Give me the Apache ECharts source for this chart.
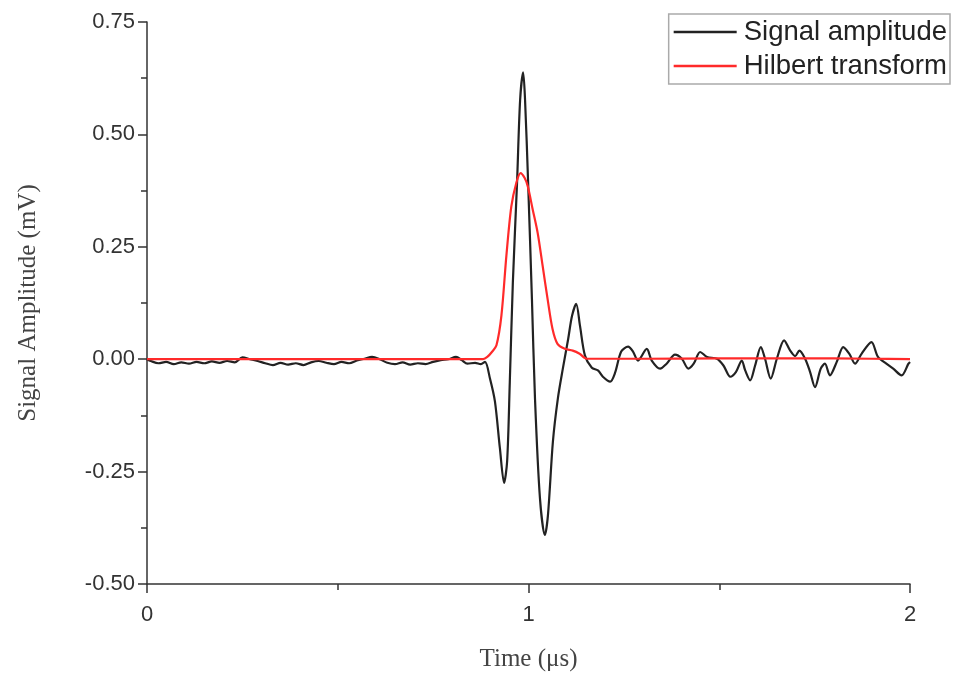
<!DOCTYPE html>
<html>
<head>
<meta charset="utf-8">
<script src="https://cdn.jsdelivr.net/npm/echarts@6/dist/echarts.min.js"></script>
<style>html,body{margin:0;padding:0;background:#fff;}#chart{width:954px;height:677px;}</style>
</head>
<body>
<div id="chart"></div>
<script>
// Time (μs) and amplitude (mV) for the measured signal
var signalTime = [0,0.01,0.03,0.05,0.07,0.09,0.11,0.13,0.15,0.17,0.19,0.21,0.23,0.25,0.27,0.29,0.31,0.33,0.35,0.37,0.39,0.41,0.43,0.45,0.47,0.49,0.51,0.53,0.55,0.57,0.59,0.61,0.63,0.65,0.67,0.69,0.71,0.73,0.75,0.77,0.79,0.81,0.825,0.84,0.86,0.875,0.886,
0.899,0.912,0.925,0.936,0.944,0.951,0.959,0.970,0.978,0.986,0.991,0.999,1.009,1.017,1.030,1.043,1.051,1.064,1.077,1.090,1.104,1.114,1.125,1.135,1.148,1.166,1.182,1.195,1.214,1.227,1.243,1.261,1.274,1.287,1.310,1.323,1.345,1.362,1.384,1.402,1.419,1.433,1.450,1.468,1.494,1.511,1.529,1.544,1.559,1.568,1.581,1.594,1.609,1.620,1.635,1.651,1.670,1.686,1.699,1.710,1.725,1.738,1.751,1.766,1.777,1.790,1.808,1.825,1.841,1.856,1.873,1.899,1.916,1.938,1.956,1.978,1.996,2.0];
var signalAmp = [0,-0.004,-0.009,-0.006,-0.011,-0.007,-0.010,-0.006,-0.009,-0.005,-0.008,-0.004,-0.007,0.004,0.000,-0.004,-0.009,-0.013,-0.008,-0.012,-0.009,-0.013,-0.007,-0.004,-0.008,-0.011,-0.006,-0.009,-0.003,0.001,0.005,0.000,-0.008,-0.011,-0.007,-0.012,-0.009,-0.011,-0.006,-0.002,0.000,0.005,-0.002,-0.010,-0.008,-0.011,-0.006,
-0.043,-0.094,-0.198,-0.275,-0.227,-0.050,0.171,0.393,0.576,0.638,0.576,0.393,0.134,-0.087,-0.309,-0.391,-0.347,-0.183,-0.087,-0.021,0.045,0.096,0.123,0.074,0.008,-0.019,-0.025,-0.039,-0.050,-0.030,0.017,0.028,0.017,-0.003,0.023,-0.003,-0.021,-0.010,0.010,0.001,-0.021,-0.010,0.016,0.005,0.001,-0.014,-0.039,-0.028,-0.003,-0.025,-0.047,-0.014,0.027,0.001,-0.043,0.001,0.042,0.019,0.007,0.019,0.001,-0.028,-0.062,-0.021,-0.010,-0.036,-0.006,0.027,0.012,-0.010,0.012,0.038,0.005,-0.010,-0.021,-0.036,-0.010,-0.006];

// Hilbert transform envelope
var hilbertTime = [0,0.5,0.881,0.892,0.904,0.916,0.929,0.942,0.955,0.968,0.979,0.990,0.998,1.011,1.024,1.037,1.050,1.063,1.076,1.095,1.116,1.134,1.153,1.30,1.50,1.70,1.90,2.0];
var hilbertAmp = [0,0,0,0.005,0.016,0.031,0.097,0.230,0.340,0.392,0.414,0.403,0.385,0.333,0.281,0.208,0.134,0.067,0.034,0.023,0.019,0.012,0.001,0.001,0.002,0.002,0.001,0.000];

var seriesNames = ['Signal amplitude', 'Hilbert transform'];
var yTicks = [-0.5, 0.75, 0.25];
var xTicks = [0, 2, 1];

function zip(a, b) { return a.map(function (v, i) { return [v, b[i]]; }); }

var chart = echarts.init(document.getElementById('chart'), null, {renderer: 'canvas'});
var tickFont = {fontFamily: 'Liberation Sans', fontSize: 22, color: '#333'};
chart.setOption({
  animation: false,
  backgroundColor: '#fff',
  grid: {left: 147, right: 44, top: 22, bottom: 91, containLabel: false},
  legend: {
    orient: 'vertical', right: 4, top: 14,
    data: seriesNames,
    icon: 'rect',
    borderColor: '#aaa', borderWidth: 1.5,
    padding: [4, 3, 4, 5], itemGap: 6,
    itemWidth: 63, itemHeight: 2.5,
    textStyle: {fontFamily: 'Liberation Sans', fontSize: 27.5, color: '#222', padding: [0, 0, 0, 2]}
  },
  xAxis: {
    type: 'value', min: xTicks[0], max: xTicks[1], interval: xTicks[2],
    name: 'Time (μs)', nameLocation: 'middle', nameGap: 63,
    nameTextStyle: {fontFamily: 'Liberation Serif', fontSize: 25, color: '#444'},
    axisLine: {onZero: false, lineStyle: {color: '#333', width: 1.5}},
    axisTick: {show: true, inside: false, length: 9, lineStyle: {color: '#333', width: 1.5}},
    minorTick: {show: true, splitNumber: 2, length: 6, lineStyle: {color: '#333', width: 1.5}},
    axisLabel: Object.assign({margin: 20}, tickFont),
    splitLine: {show: false}
  },
  yAxis: {
    type: 'value', min: yTicks[0], max: yTicks[1], interval: yTicks[2],
    name: 'Signal Amplitude (mV)', nameLocation: 'middle', nameGap: 106,
    nameTextStyle: {fontFamily: 'Liberation Serif', fontSize: 25, color: '#444'},
    axisLine: {show: true, lineStyle: {color: '#333', width: 1.5}},
    axisTick: {show: true, inside: false, length: 9, lineStyle: {color: '#333', width: 1.5}},
    minorTick: {show: true, splitNumber: 2, length: 6, lineStyle: {color: '#333', width: 1.5}},
    axisLabel: Object.assign({margin: 12, formatter: function (v) { return v.toFixed(2); }}, tickFont),
    splitLine: {show: false}
  },
  series: [
    {name: seriesNames[0], type: 'line', data: zip(signalTime, signalAmp), symbol: 'none', smooth: 0.3,
     lineStyle: {color: '#222', width: 2.2}, itemStyle: {color: '#222'}, z: 2},
    {name: seriesNames[1], type: 'line', data: zip(hilbertTime, hilbertAmp), symbol: 'none', smooth: 0.3,
     lineStyle: {color: '#ff2a2a', width: 2.2}, itemStyle: {color: '#ff2a2a'}, z: 3}
  ]
});
</script>
</body>
</html>
